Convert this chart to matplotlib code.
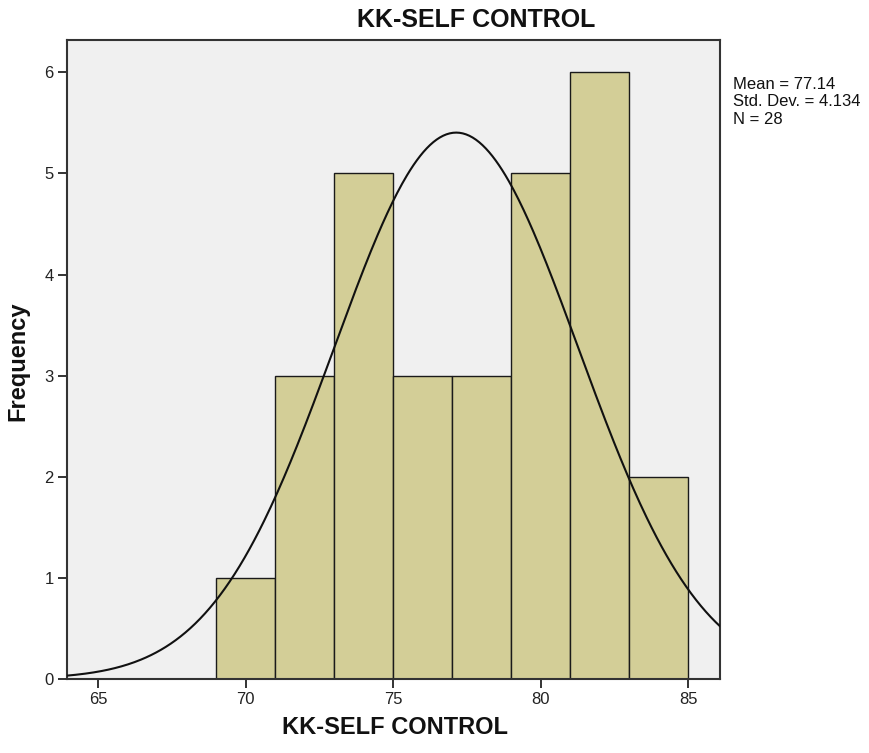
import numpy as np
import matplotlib
matplotlib.use("Agg")
import matplotlib.pyplot as plt

# Histogram of KK-SELF CONTROL scores (bin edges and counts per bin)
bin_edges = [69, 71, 73, 75, 77, 79, 81, 83, 85]
counts = [1, 3, 5, 3, 3, 5, 6, 2]
mean_val = 77.14
std_val = 4.134
n_val = 28
x_ticks = [65, 70, 75, 80, 85]
y_ticks = [0, 1, 2, 3, 4, 5, 6]

W, H = 870, 753
font = ["Liberation Sans", "DejaVu Sans"]

fig = plt.figure(figsize=(W / 100, H / 100), dpi=100)
fig.patch.set_facecolor("white")
ax = fig.add_axes([67 / W, 1 - 679 / H, (720 - 67) / W, (679 - 40) / H])
ax.set_facecolor("#F0F0F0")

edges = np.array(bin_edges, dtype=float)
widths = np.diff(edges)
ax.bar(edges[:-1], counts, width=widths, align="edge",
       color="#D3CE97", edgecolor="#1a1a1a", linewidth=1.0, zorder=2)

# Normal curve scaled to the histogram (N * bin width)
xs = np.linspace(63.9, 86.1, 400)
bw = widths[0]
ys = n_val * bw / (std_val * np.sqrt(2 * np.pi)) * np.exp(-0.5 * ((xs - mean_val) / std_val) ** 2)
ax.plot(xs, ys, color="#111111", linewidth=1.5, zorder=3)

ax.set_xlim(63.95, 86.08)
ax.set_ylim(0, 6.32)
ax.set_xticks(x_ticks)
ax.set_yticks(y_ticks)
ax.tick_params(direction="out", length=6.5, width=1.4, color="#333333",
               labelsize=12, labelcolor="#222222", pad=3)
for lbl in ax.get_xticklabels() + ax.get_yticklabels():
    lbl.set_family(font)
for s in ax.spines.values():
    s.set_linewidth(1.5)
    s.set_color("#333333")

fig.text(476 / W, 1 - 20 / H, "KK-SELF CONTROL", fontsize=18, fontweight="bold",
         family=font, ha="center", va="center", color="#111111")
fig.text(395 / W, 1 - 728 / H, "KK-SELF CONTROL", fontsize=17, fontweight="bold",
         family=font, ha="center", va="center", color="#111111")
fig.text(17.5 / W, 1 - 361 / H, "Frequency", fontsize=17, fontweight="bold",
         family=font, ha="center", va="center", rotation=90, color="#111111")

fig.text(733 / W, 1 - 102 / H,
         f"Mean = {mean_val:.2f}\nStd. Dev. = {std_val:.3f}\nN = {n_val}",
         fontsize=12, family=font, va="center", ha="left",
         linespacing=1.2, color="#111111")

fig.savefig("out.png", dpi=100)
